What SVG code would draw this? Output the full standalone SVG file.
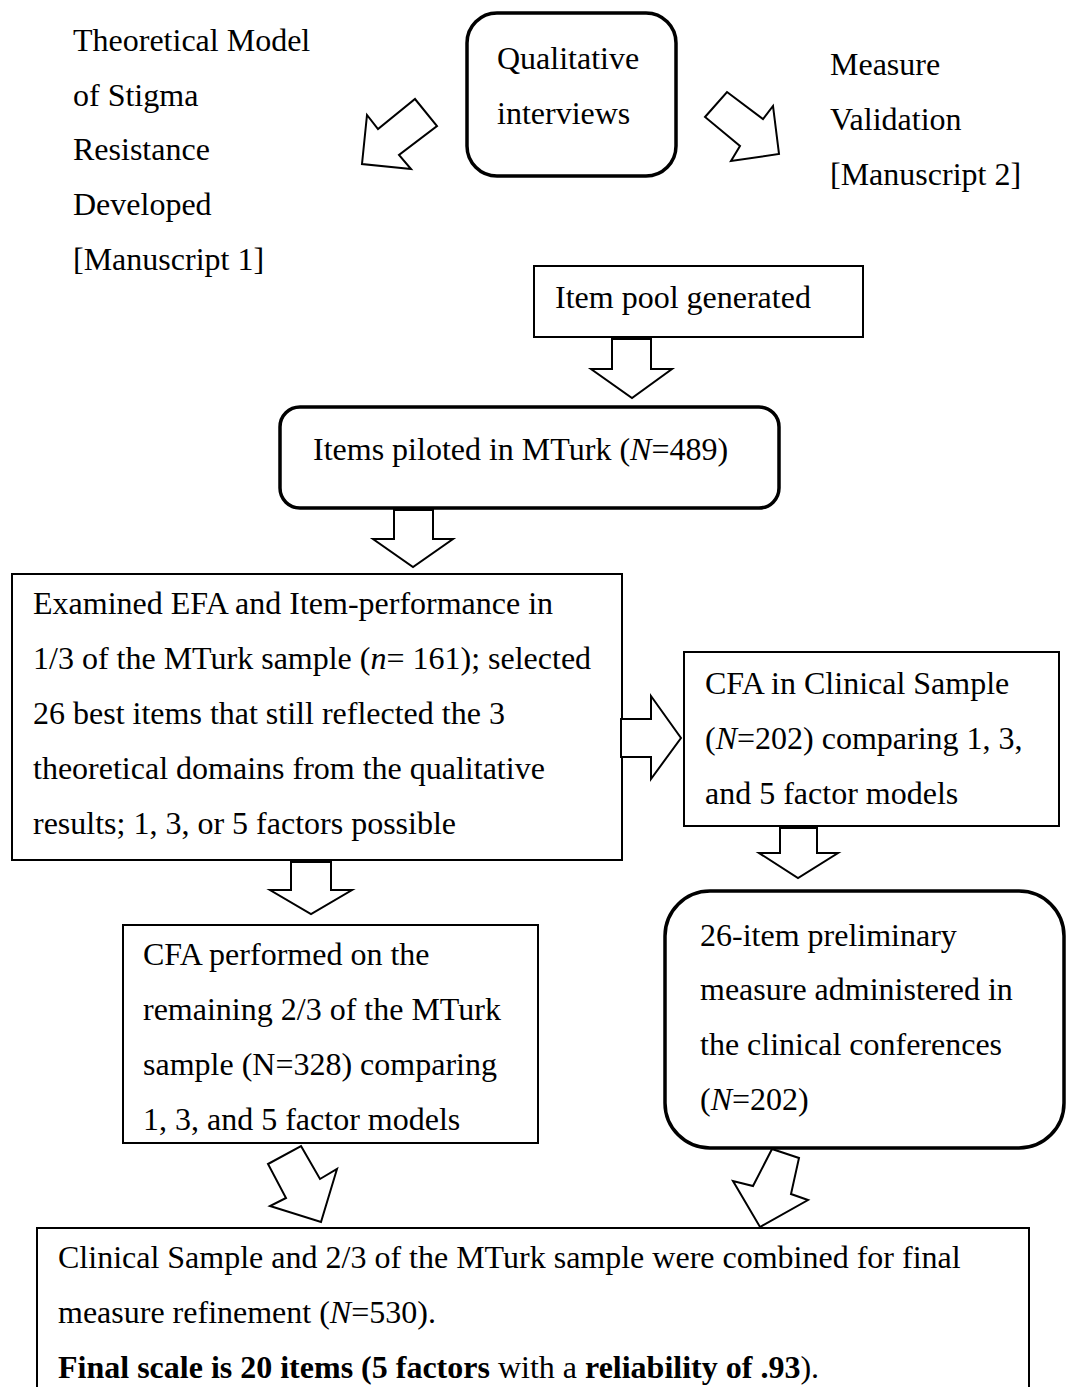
<svg xmlns="http://www.w3.org/2000/svg" width="1067" height="1387" viewBox="0 0 1067 1387">
<style>
text{font-family:"Liberation Serif","Times New Roman",serif;font-size:32px;fill:#000}
.box{fill:#fff;stroke:#000;stroke-width:2}
.rbox{fill:#fff;stroke:#000;stroke-width:3.5}
.arr{fill:#fff;stroke:#000;stroke-width:2;stroke-linejoin:miter}
.i{font-style:italic}
.b{font-weight:bold}
</style>
<rect width="1067" height="1387" fill="#fff"/>
<g id="theory">
<text x="73" y="51">Theoretical Model</text>
<text x="73" y="106">of Stigma</text>
<text x="73" y="160">Resistance</text>
<text x="73" y="215">Developed</text>
<text x="73" y="270">[Manuscript 1]</text>
</g>
<g id="validation">
<text x="830" y="75">Measure</text>
<text x="830" y="130">Validation</text>
<text x="830" y="185">[Manuscript 2]</text>
</g>
<g id="qualitative">
<rect class="rbox" x="467" y="13" width="209" height="163" rx="30"/>
<text x="497" y="69">Qualitative</text>
<text x="497" y="124">interviews</text>
</g>
<g id="itempool">
<rect class="box" x="534" y="266" width="329" height="71"/>
<text x="555" y="308">Item pool generated</text>
</g>
<g id="piloted">
<rect class="rbox" x="280" y="407" width="499" height="101" rx="20"/>
<text x="313" y="460">Items piloted in MTurk (<tspan class="i">N</tspan>=489)</text>
</g>
<g id="efa">
<rect class="box" x="12" y="574" width="610" height="286"/>
<text x="33" y="614">Examined EFA and Item-performance in</text>
<text x="33" y="669">1/3 of the MTurk sample (<tspan class="i">n</tspan>= 161); selected</text>
<text x="33" y="724">26 best items that still reflected the 3</text>
<text x="33" y="779">theoretical domains from the qualitative</text>
<text x="33" y="834">results; 1, 3, or 5 factors possible</text>
</g>
<g id="cfaclinical">
<rect class="box" x="684" y="652" width="375" height="174"/>
<text x="705" y="694">CFA in Clinical Sample</text>
<text x="705" y="749">(<tspan class="i">N</tspan>=202) comparing 1, 3,</text>
<text x="705" y="804">and 5 factor models</text>
</g>
<g id="cfamturk">
<rect class="box" x="123" y="925" width="415" height="218"/>
<text x="143" y="965">CFA performed on the</text>
<text x="143" y="1020">remaining 2/3 of the MTurk</text>
<text x="143" y="1075">sample (N=328) comparing</text>
<text x="143" y="1130">1, 3, and 5 factor models</text>
</g>
<g id="preliminary">
<rect class="rbox" x="665" y="891" width="399" height="257" rx="45"/>
<text x="700" y="946">26-item preliminary</text>
<text x="700" y="1000">measure administered in</text>
<text x="700" y="1055">the clinical conferences</text>
<text x="700" y="1110">(<tspan class="i">N</tspan>=202)</text>
</g>
<g id="final">
<rect class="box" x="37" y="1228" width="992" height="200"/>
<text x="58" y="1268">Clinical Sample and 2/3 of the MTurk sample were combined for final</text>
<text x="58" y="1323">measure refinement (<tspan class="i">N</tspan>=530).</text>
<text x="58" y="1378"><tspan class="b">Final scale is 20 items (5 factors</tspan> with a <tspan class="b">reliability of .93</tspan>).</text>
</g>
<g id="connectors">
<polygon class="arr" points="415,99 437,126 399,155 411,169 362,164 367,115 378,129"/>
<polygon class="arr" points="727,92 763,119 773,106 779,154 731,161 740,146 705,117"/>
<polygon class="arr" points="612,339 651,339 651,369 672,369 632,398 591,369 612,369"/>
<polygon class="arr" points="394,510 433,510 433,539 453,539 413,567 373,539 394,539"/>
<polygon class="arr" points="621,719 651,719 651,696 681,738 651,779 651,757 621,757"/>
<polygon class="arr" points="291,862 331,862 331,890 352,890 311,914 270,890 291,890"/>
<polygon class="arr" points="780,828 817,828 817,853 838,853 798,878 759,853 780,853"/>
<polygon class="arr" points="301,1146 320,1179 337,1169 321,1222 270,1206 286,1198 268,1164"/>
<polygon class="arr" points="772,1149 799,1158 791,1194 808,1200 760,1227 733,1181 753,1186"/>
</g>
</svg>
